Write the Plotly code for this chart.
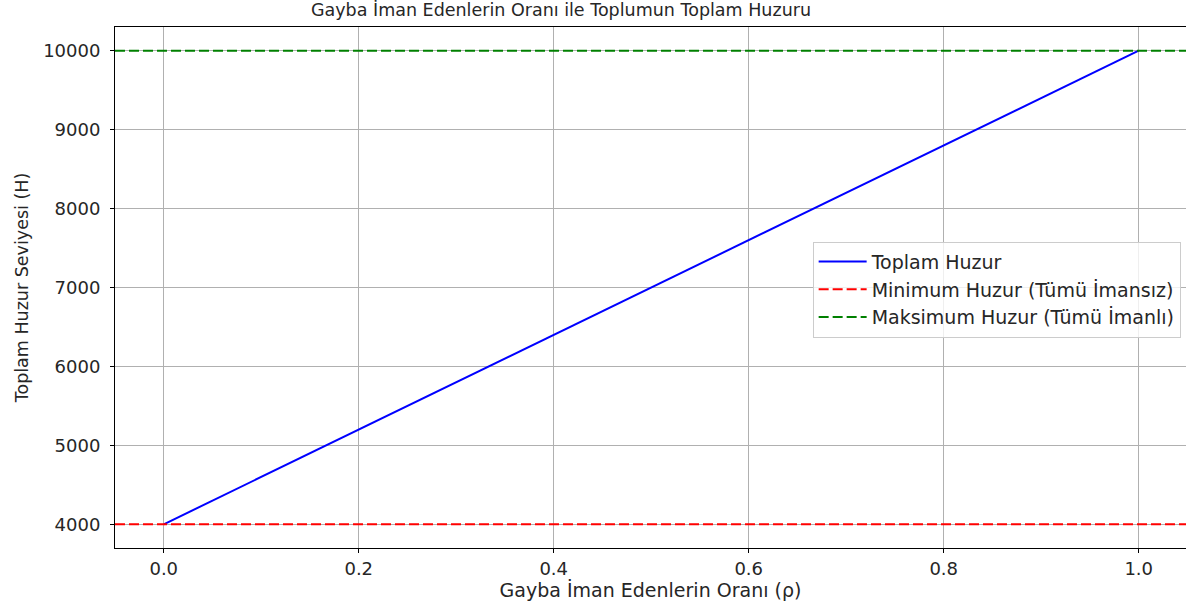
import plotly.graph_objects as go

# oran (rho) ve toplam huzur değerleri
oran = [0.0, 0.2, 0.4, 0.6, 0.8, 1.0]
toplam_huzur = [4000, 5200, 6400, 7600, 8800, 10000]

min_huzur = 4000
max_huzur = 10000
x_sinir = [-0.05, 1.05]

x_ticks = [0.0, 0.2, 0.4, 0.6, 0.8, 1.0]
y_ticks = [4000, 5000, 6000, 7000, 8000, 9000, 10000]

FONT = 'DejaVu Sans'
TEXT = '#262626'

fig = go.Figure()
fig.add_trace(go.Scatter(
    x=oran, y=toplam_huzur, mode='lines', name='Toplam Huzur',
    line=dict(color='blue', width=2)
))
fig.add_trace(go.Scatter(
    x=x_sinir, y=[min_huzur] * 2, mode='lines',
    name='Minimum Huzur (Tümü İmansız)',
    line=dict(color='red', width=2, dash='10px,4px')
))
fig.add_trace(go.Scatter(
    x=x_sinir, y=[max_huzur] * 2, mode='lines',
    name='Maksimum Huzur (Tümü İmanlı)',
    line=dict(color='green', width=2, dash='10px,4px')
))

fig.update_layout(
    width=1186, height=609,
    margin=dict(l=115, r=0, t=27, b=61),
    plot_bgcolor='white', paper_bgcolor='white',
    font=dict(family=FONT, color=TEXT, size=18),
    title=dict(
        text='Gayba İman Edenlerin Oranı ile Toplumun Toplam Huzuru',
        font=dict(size=17.5, color=TEXT),
        x=561 / 1186, xanchor='center', xref='container',
        y=1 - 10 / 609, yanchor='middle', yref='container'
    ),
    legend=dict(
        x=0.995, xanchor='right', y=0.588, yanchor='top',
        bgcolor='rgba(255,255,255,0.8)', bordercolor='#cccccc',
        borderwidth=1, font=dict(size=19, color=TEXT),
        tracegroupgap=0, itemwidth=48
    ),
    showlegend=True
)

fig.update_xaxes(
    range=[-0.05, 1.0485], tickvals=x_ticks, tickformat='.1f',
    showgrid=True, gridcolor='#b0b0b0', gridwidth=1,
    showline=True, linecolor='black', linewidth=1, mirror=True,
    ticks='outside', ticklen=4, tickcolor='black',
    tickfont=dict(size=18),
    zeroline=False,
    title=dict(text='Gayba İman Edenlerin Oranı (ρ)',
               font=dict(size=19), standoff=5)
)
fig.update_yaxes(
    range=[3700, 10300], tickvals=y_ticks, tickformat='d',
    showgrid=True, gridcolor='#b0b0b0', gridwidth=1,
    showline=True, linecolor='black', linewidth=1, mirror=False,
    ticks='outside', ticklen=4, tickcolor='black',
    tickfont=dict(size=18), ticklabelstandoff=6,
    zeroline=False,
    title=dict(text='Toplam Huzur Seviyesi (H)',
               font=dict(size=17.5), standoff=10)
)

# sayfanın varsayılan 8px kenar boşluğunu kaldır
fig.write_html('out.html', config={'displayModeBar': False},
               post_script="document.body.style.margin='0';")
